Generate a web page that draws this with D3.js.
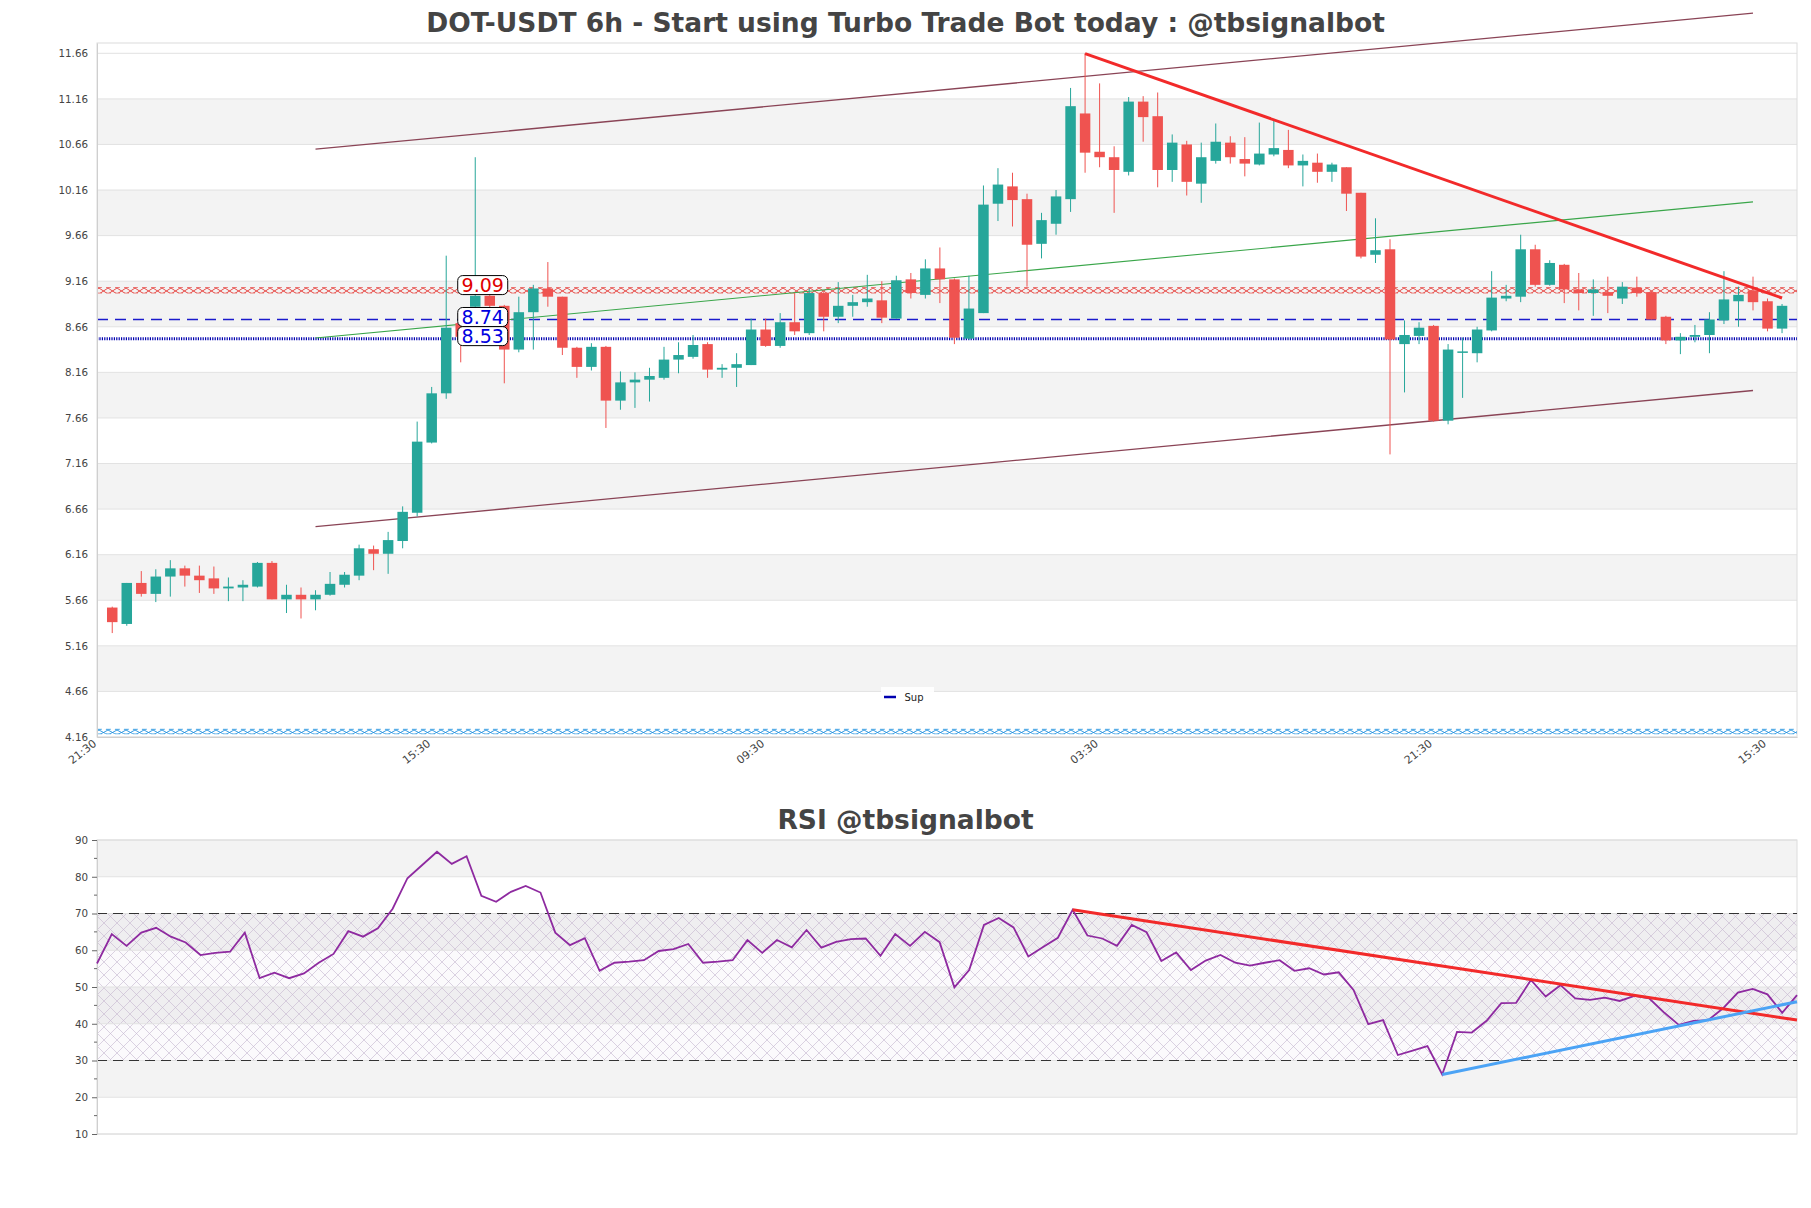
<!DOCTYPE html>
<html><head><meta charset="utf-8">
<script src="https://cdn.jsdelivr.net/npm/d3@7"></script>
<style>
body{margin:0;background:#fff;}
svg{display:block;font-family:"DejaVu Sans",sans-serif;}
</style></head><body>
<svg id="chart" width="1811" height="1208"></svg>
<script>
// ---------------- DATA ----------------
const opens  = [5.58,5.40,5.85,5.73,5.92,6.01,5.93,5.90,5.79,5.80,5.81,6.07,5.67,5.72,5.67,5.72,5.83,5.93,6.22,6.17,6.31,6.62,7.39,7.93,8.70,8.88,9.00,8.89,8.41,8.82,9.08,8.99,8.43,8.22,8.44,7.85,8.05,8.08,8.10,8.30,8.33,8.47,8.19,8.21,8.24,8.63,8.45,8.71,8.59,9.03,8.77,8.89,8.93,8.95,8.75,9.18,9.01,9.30,9.18,8.53,8.81,10.01,10.20,10.06,9.57,9.79,10.06,11.00,10.58,10.52,10.36,11.13,10.97,10.38,10.66,10.23,10.48,10.68,10.50,10.44,10.55,10.60,10.43,10.46,10.36,10.41,10.13,9.45,9.51,8.47,8.56,8.67,7.63,8.38,8.37,8.62,8.97,8.99,9.51,9.12,9.34,9.07,9.03,9.04,8.97,9.09,9.04,8.77,8.51,8.55,8.57,8.73,8.94,9.06,8.94,8.64];
const highs  = [5.59,5.85,5.98,6.00,6.10,6.04,6.04,6.03,5.91,5.88,6.08,6.09,5.83,5.80,5.77,5.97,5.97,6.27,6.26,6.41,6.69,7.62,8.00,9.44,8.75,10.52,9.01,8.90,8.99,9.12,9.37,8.99,8.44,8.48,8.45,8.17,8.16,8.21,8.44,8.49,8.57,8.49,8.25,8.37,8.75,8.75,8.81,9.03,9.08,9.04,9.15,9.01,9.23,9.16,9.22,9.25,9.40,9.53,9.19,9.22,10.21,10.40,10.35,10.12,9.91,10.16,11.28,11.66,11.33,10.64,11.18,11.19,11.23,10.77,10.70,10.68,10.89,10.75,10.74,10.90,10.94,10.82,10.55,10.56,10.46,10.41,10.13,9.85,9.62,8.73,8.71,8.68,8.47,8.54,8.66,9.27,9.12,9.67,9.56,9.39,9.35,9.25,9.18,9.21,9.15,9.21,9.05,8.78,8.59,8.68,8.82,9.27,9.10,9.21,8.97,8.91];
const lows   = [5.30,5.38,5.70,5.64,5.70,5.81,5.74,5.73,5.65,5.65,5.80,5.67,5.52,5.46,5.55,5.71,5.80,5.88,5.99,5.95,6.23,6.58,7.38,7.87,8.27,8.86,8.86,8.04,8.38,8.41,8.88,8.35,8.10,8.18,7.55,7.75,7.77,7.84,8.08,8.15,8.31,8.10,8.10,8.00,8.24,8.44,8.43,8.57,8.57,8.61,8.70,8.77,8.88,8.70,8.75,8.97,8.97,8.92,8.47,8.52,8.81,9.82,9.76,9.10,9.41,9.67,9.92,10.35,10.41,9.91,10.32,10.69,10.19,10.25,10.10,10.02,10.45,10.45,10.31,10.43,10.53,10.40,10.20,10.24,10.25,9.93,9.41,9.36,7.26,7.94,8.47,7.62,7.59,7.88,8.27,8.61,8.94,8.93,9.10,9.11,8.92,8.84,8.78,8.81,8.91,8.99,8.74,8.47,8.36,8.49,8.37,8.69,8.66,8.84,8.61,8.59];
const closes = [5.42,5.85,5.73,5.92,6.01,5.93,5.88,5.79,5.81,5.83,6.07,5.67,5.72,5.67,5.72,5.84,5.94,6.23,6.17,6.32,6.63,7.40,7.93,8.65,8.55,9.00,8.89,8.41,8.82,9.08,8.99,8.43,8.22,8.44,7.85,8.05,8.08,8.12,8.30,8.35,8.46,8.19,8.21,8.25,8.63,8.45,8.71,8.61,9.03,8.77,8.89,8.93,8.97,8.76,9.17,9.03,9.30,9.18,8.54,8.86,10.00,10.22,10.05,9.56,9.83,10.09,11.08,10.57,10.52,10.38,11.13,10.96,10.38,10.68,10.25,10.52,10.69,10.52,10.45,10.56,10.62,10.43,10.48,10.36,10.44,10.12,9.43,9.50,8.52,8.57,8.65,7.63,8.41,8.39,8.63,8.98,9.00,9.51,9.12,9.36,9.07,9.03,9.07,9.00,9.10,9.03,8.74,8.51,8.55,8.57,8.74,8.96,9.01,8.93,8.64,8.89];
const rsiValues = [56.4,64.4,61.2,64.8,66.1,63.7,62.1,58.7,59.3,59.6,64.8,52.4,53.9,52.4,53.7,56.6,59.0,65.2,63.7,66.0,71.3,79.6,83.2,86.8,83.5,85.6,74.8,73.2,75.9,77.5,75.7,64.8,61.4,63.3,54.4,56.6,56.9,57.3,59.8,60.3,61.7,56.6,56.9,57.3,62.8,59.3,62.8,60.8,65.5,60.7,62.3,63.0,63.2,58.5,64.4,61.2,65.0,62.2,49.9,54.6,66.9,68.8,66.2,58.3,60.9,63.4,71.0,64.0,63.2,61.2,66.9,64.9,57.1,59.4,54.6,57.2,58.7,56.6,55.8,56.6,57.3,54.4,55.1,53.4,54.0,49.2,39.9,41.0,31.5,32.7,33.9,26.2,37.8,37.6,40.8,45.6,45.7,51.9,47.4,50.5,46.9,46.5,47.1,46.2,47.6,46.9,43.1,39.7,40.8,41.0,44.2,48.5,49.5,48.0,43.0,47.8];
const xTickIdx    = [-1,22,45,68,91,114];
const xTickLabels = ["21:30","15:30","09:30","03:30","21:30","15:30"];
const priceTicks  = [4.16,4.66,5.16,5.66,6.16,6.66,7.16,7.66,8.16,8.66,9.16,9.66,10.16,10.66,11.16,11.66];
const rsiTicks    = [10,20,30,40,50,60,70,80,90];
const rsiLevels   = [70,30];
const levelValues = [9.09,8.74,8.53];
const levelNames  = ["Res","Mid","Sup"];
const resBand     = [9.03,9.09];
const lowBand     = [4.195,4.245];
const channelIdx  = [14,113];
const channelUpper= [10.608,12.10];
const channelMid  = [8.537,10.03];
const channelLower= [6.467,7.961];
const trendIdx    = [67,115];
const trendPrice  = [11.656,8.976];
const rsiResIdx   = [66,115];
const rsiResVal   = [71.0,41.0];
const rsiSupIdx   = [91,115];
const rsiSupVal   = [26.2,46.0];

// ---------------- CHART ----------------
const svg = d3.select("#chart");
const GREEN="#26a69a", RED="#ef5350", BAND="#f3f3f3", GRID="#e2e2e2", TXT="#444";
const P = {l:97, r:1797, t:43, b:737};
const x = d3.scaleLinear().domain([-1.05,116.03]).range([P.l,P.r]);
const y = d3.scaleLinear().domain([4.16,11.773]).range([P.b,P.t]);

const defs = svg.append("defs");
function xPattern(id,color,w,h){
  const p = defs.append("pattern").attr("id",id).attr("patternUnits","userSpaceOnUse")
    .attr("width",w).attr("height",h);
  p.append("path").attr("d",`M0,0L${w},${h}M${w},0L0,${h}`).attr("stroke",color)
    .attr("stroke-width",0.9).attr("fill","none");
}
const pr = defs.append("pattern").attr("id","rsiHatch").attr("patternUnits","userSpaceOnUse")
  .attr("width",13).attr("height",13);
pr.append("path").attr("d","M0,0L13,13M13,0L0,13").attr("stroke","#c4b6cf").attr("stroke-width",0.6).attr("fill","none");

// title
svg.append("text").attr("x",905.5).attr("y",32).attr("text-anchor","middle")
  .attr("font-size",26.5).attr("font-weight","bold").attr("fill",TXT)
  .text("DOT-USDT 6h - Start using Turbo Trade Bot today : @tbsignalbot");

const g = svg.append("g");
for(let i=0;i<priceTicks.length-1;i++){
  if(i%2===1){
    g.append("rect").attr("x",P.l).attr("width",P.r-P.l)
      .attr("y",y(priceTicks[i+1])).attr("height",y(priceTicks[i])-y(priceTicks[i+1])).attr("fill",BAND);
  }
}
g.selectAll(".grid").data(priceTicks).join("line")
  .attr("x1",P.l).attr("x2",P.r).attr("y1",d=>y(d)).attr("y2",d=>y(d))
  .attr("stroke",GRID).attr("stroke-width",1);
g.append("rect").attr("x",P.l).attr("y",P.t).attr("width",P.r-P.l).attr("height",P.b-P.t)
  .attr("fill","none").attr("stroke","#dcdcdc");

// y axis
const yAxis = d3.axisLeft(y).tickValues(priceTicks).tickFormat(d3.format(".2f")).tickSize(0).tickPadding(9);
const ya = svg.append("g").attr("transform",`translate(${P.l},0)`).call(yAxis);
ya.select(".domain").attr("stroke","#cfcfcf");
ya.selectAll("text").attr("font-size",10.3).attr("fill",TXT).attr("font-family","DejaVu Sans");

// x axis
const xAxis = d3.axisBottom(x).tickValues(xTickIdx).tickFormat((d,i)=>xTickLabels[i]).tickSize(0);
const xa = svg.append("g").attr("transform",`translate(0,${P.b})`).call(xAxis);
xa.select(".domain").attr("stroke","#cfcfcf");
xa.selectAll("text").attr("font-size",11).attr("fill",TXT).attr("font-family","DejaVu Sans")
  .attr("text-anchor","end").attr("dy",null).attr("y",0)
  .attr("transform","translate(-1,8) rotate(-38)");

// hatched level bands
xPattern("redX","#e53935",9,6);
xPattern("blueX","#1e90e0",9,5);
function hatchBand(b,pid,color){
  const y1=y(b[1]), y2=y(b[0]);
  g.append("rect").attr("x",P.l).attr("width",P.r-P.l).attr("y",y1).attr("height",y2-y1)
    .attr("fill",`url(#${pid})`);
  [y1,y2].forEach(v=>g.append("line").attr("x1",P.l).attr("x2",P.r).attr("y1",v).attr("y2",v)
    .attr("stroke",color).attr("stroke-width",0.7).attr("stroke-dasharray","5,4").attr("opacity",0.85));
}
hatchBand(resBand,"redX","#e53935");
hatchBand(lowBand,"blueX","#1e90e0");

// horizontal levels
g.append("line").attr("x1",P.l).attr("x2",P.r).attr("y1",y(levelValues[1])).attr("y2",y(levelValues[1]))
  .attr("stroke","#1a1acc").attr("stroke-width",1.3).attr("stroke-dasharray","11,7");
g.append("line").attr("x1",P.l).attr("x2",P.r).attr("y1",y(levelValues[2])).attr("y2",y(levelValues[2]))
  .attr("stroke","#0000b0").attr("stroke-width",3).attr("stroke-dasharray","1.2,1.2");

// channel lines
const line2 = (xi,yv)=>d3.line()([[x(xi[0]),y(yv[0])],[x(xi[1]),y(yv[1])]]);
svg.append("path").attr("d",line2(channelIdx,channelUpper)).attr("stroke","#8a4456").attr("stroke-width",1.3).attr("fill","none");
svg.append("path").attr("d",line2(channelIdx,channelLower)).attr("stroke","#8a4456").attr("stroke-width",1.3).attr("fill","none");
svg.append("path").attr("d",line2(channelIdx,channelMid)).attr("stroke","#3aa64a").attr("stroke-width",1.1).attr("fill","none");

// candles
const idx = d3.range(opens.length);
const bw = 10.5;
const cg = svg.append("g");
cg.selectAll(".wick").data(idx).join("line")
  .attr("x1",i=>x(i)).attr("x2",i=>x(i)).attr("y1",i=>y(highs[i])).attr("y2",i=>y(lows[i]))
  .attr("stroke",i=>closes[i]>=opens[i]?GREEN:RED).attr("stroke-width",1);
cg.selectAll(".body").data(idx).join("rect")
  .attr("x",i=>x(i)-bw/2).attr("width",bw)
  .attr("y",i=>y(Math.max(opens[i],closes[i])))
  .attr("height",i=>Math.max(1.5,Math.abs(y(opens[i])-y(closes[i]))))
  .attr("fill",i=>closes[i]>=opens[i]?GREEN:RED);

// trend line
svg.append("path").attr("d",line2(trendIdx,trendPrice)).attr("stroke","#f22a2a").attr("stroke-width",3).attr("fill","none");

// level labels
const lblColors=["#e00000","#0000e0","#0000e0"];
levelValues.forEach((v,k)=>{
  const cx = x(24)+22, cy=y(v)-2.5;
  svg.append("rect").attr("x",cx-25).attr("y",cy-9.5).attr("width",50).attr("height",19).attr("rx",5)
    .attr("fill","#fff").attr("stroke","#000").attr("stroke-width",1);
  svg.append("text").attr("x",cx).attr("y",cy+7).attr("text-anchor","middle").attr("font-size",19)
    .attr("fill",lblColors[k]).text(d3.format(".2f")(v));
});

// legend
const lg = svg.append("g").attr("transform","translate(881,687)");
lg.append("rect").attr("width",53).attr("height",18).attr("fill","#fff").attr("opacity",0.9);
lg.append("line").attr("x1",3).attr("x2",15).attr("y1",10).attr("y2",10).attr("stroke","#0000b0").attr("stroke-width",2.5);
lg.append("text").attr("x",23.5).attr("y",14).attr("font-size",10).attr("fill","#222").text(levelNames[2]);

// ---------------- RSI ----------------
const R = {l:97, r:1797, t:840, b:1134};
const xr = d3.scaleLinear().domain([0,rsiValues.length-1]).range([R.l,R.r]);
const yr = d3.scaleLinear().domain([10,90]).range([R.b,R.t]);
svg.append("text").attr("x",905.5).attr("y",829).attr("text-anchor","middle")
  .attr("font-size",26.5).attr("font-weight","bold").attr("fill",TXT).text("RSI @tbsignalbot");
const rg = svg.append("g");
for(let i=0;i<rsiTicks.length-1;i++){
  if(i%2===1) rg.append("rect").attr("x",R.l).attr("width",R.r-R.l)
    .attr("y",yr(rsiTicks[i+1])).attr("height",yr(rsiTicks[i])-yr(rsiTicks[i+1])).attr("fill",BAND);
}
rg.append("rect").attr("x",R.l).attr("width",R.r-R.l).attr("y",yr(rsiLevels[0]))
  .attr("height",yr(rsiLevels[1])-yr(rsiLevels[0])).attr("fill","rgba(120,80,170,0.03)");
rg.append("rect").attr("x",R.l).attr("width",R.r-R.l).attr("y",yr(rsiLevels[0]))
  .attr("height",yr(rsiLevels[1])-yr(rsiLevels[0])).attr("fill","url(#rsiHatch)");
rg.selectAll(".rgrid").data(rsiTicks).join("line")
  .attr("x1",R.l).attr("x2",R.r).attr("y1",d=>yr(d)).attr("y2",d=>yr(d)).attr("stroke",GRID);
rg.append("rect").attr("x",R.l).attr("y",R.t).attr("width",R.r-R.l).attr("height",R.b-R.t)
  .attr("fill","none").attr("stroke","#dcdcdc");
rg.selectAll(".lvl").data(rsiLevels).join("line")
  .attr("x1",R.l).attr("x2",R.r).attr("y1",d=>yr(d)).attr("y2",d=>yr(d))
  .attr("stroke","#333").attr("stroke-width",1.1).attr("stroke-dasharray","10,6");
const ra = svg.append("g").attr("transform",`translate(${R.l},0)`)
  .call(d3.axisLeft(yr).tickValues(rsiTicks).tickSize(5).tickPadding(4));
ra.select(".domain").attr("stroke","#cfcfcf");
ra.selectAll("line").attr("stroke","#666");
ra.selectAll("text").attr("font-size",10.3).attr("fill",TXT).attr("font-family","DejaVu Sans");
const minor = d3.range(15,90,10);
svg.append("g").selectAll("line").data(minor).join("line")
  .attr("x1",R.l-3).attr("x2",R.l).attr("y1",d=>yr(d)).attr("y2",d=>yr(d)).attr("stroke","#666");

svg.append("path").datum(rsiValues)
  .attr("d",d3.line().x((d,i)=>xr(i)).y(d=>yr(d)))
  .attr("fill","none").attr("stroke","#8e2aa0").attr("stroke-width",1.8);
svg.append("path").attr("d",d3.line()([[xr(rsiResIdx[0]),yr(rsiResVal[0])],[xr(rsiResIdx[1]),yr(rsiResVal[1])]]))
  .attr("stroke","#f22a2a").attr("stroke-width",3).attr("fill","none");
svg.append("path").attr("d",d3.line()([[xr(rsiSupIdx[0]),yr(rsiSupVal[0])],[xr(rsiSupIdx[1]),yr(rsiSupVal[1])]]))
  .attr("stroke","#4ba3f5").attr("stroke-width",3).attr("fill","none");
</script>
</body></html>
